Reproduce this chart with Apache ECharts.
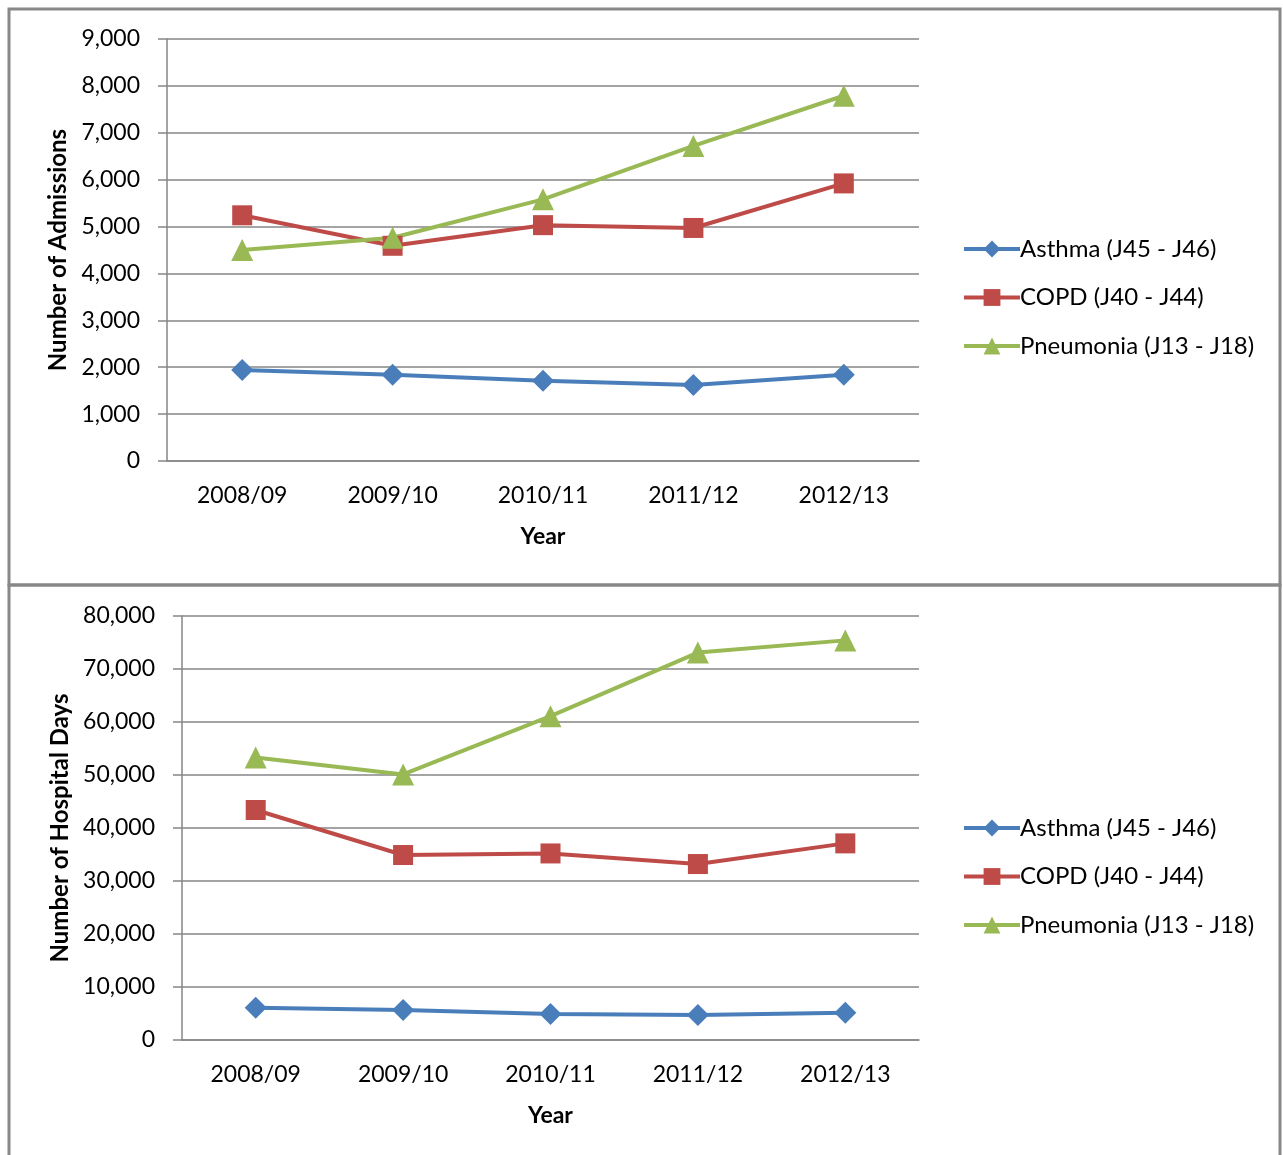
<!DOCTYPE html>
<html>
<head>
<meta charset="utf-8">
<script src="https://cdn.jsdelivr.net/npm/echarts@6/dist/echarts.min.js"></script>
<style>
  html, body { margin: 0; padding: 0; background: #fff; }
  #chart { width: 1283px; height: 1155px; }
</style>
</head>
<body>
<div id="chart"></div>
<script>
// Fiscal years on the category axis
const years = ['2008/09', '2009/10', '2010/11', '2011/12', '2012/13'];

// Hospital admissions by condition
const admissionsAsthma    = [1940, 1840, 1710, 1620, 1840];
const admissionsCOPD      = [5240, 4590, 5030, 4970, 5920];
const admissionsPneumonia = [4500, 4760, 5580, 6720, 7790];

// Hospital days by condition
const daysAsthma    = [6100, 5650, 4900, 4720, 5150];
const daysCOPD      = [43400, 34900, 35200, 33200, 37100];
const daysPneumonia = [53300, 50100, 61100, 73100, 75400];

const seriesNames = ['Asthma (J45 - J46)', 'COPD (J40 - J44)', 'Pneumonia (J13 - J18)'];
const colors = ['#4A7EBB', '#BE4B48', '#98B954'];
const symbols = ['diamond', 'rect', 'triangle'];
const symbolSizes = [22, 20, 22];

const FONT = 'Lato, "Open Sans", sans-serif';
const GRID_COLOR = '#868686';

function fmt(v) { return v.toLocaleString('en-US'); }

function yAxis(gridIndex, max, interval, name, nameGap) {
  return {
    type: 'value', gridIndex, min: 0, max, interval,
    name, nameLocation: 'middle', nameRotate: 90, nameGap,
    nameTextStyle: { fontFamily: FONT, fontSize: 24, fontWeight: 'bold', color: '#000' },
    axisLine: { show: true, lineStyle: { color: GRID_COLOR, width: 1.5 } },
    axisTick: { show: true, length: 9, lineStyle: { color: GRID_COLOR, width: 1.5 } },
    axisLabel: { margin: 27, fontFamily: FONT, fontSize: 23, color: '#000', formatter: fmt },
    splitLine: { show: true, lineStyle: { color: GRID_COLOR, width: 1.5 } }
  };
}

function xAxis(gridIndex) {
  return {
    type: 'category', gridIndex, data: years, boundaryGap: true,
    name: 'Year', nameLocation: 'middle', nameGap: 64,
    nameTextStyle: { fontFamily: FONT, fontSize: 23, fontWeight: 'bold', color: '#000' },
    axisLine: { show: true, lineStyle: { color: GRID_COLOR, width: 1.5 } },
    axisTick: { show: false },
    axisLabel: { margin: 23, fontFamily: FONT, fontSize: 23, color: '#000' }
  };
}

function lineSeries(i, data, axisIndex) {
  return {
    name: seriesNames[i], type: 'line', data,
    xAxisIndex: axisIndex, yAxisIndex: axisIndex,
    symbol: symbols[i], symbolSize: symbolSizes[i],
    lineStyle: { color: colors[i], width: 4 },
    itemStyle: { color: colors[i] },
    emphasis: { disabled: true },
    animation: false
  };
}

function legend(top) {
  return {
    orient: 'vertical', left: 957, top,
    itemWidth: 56, itemHeight: 21, itemGap: 24.5,
    lineStyle: { width: 4 },
    textStyle: { fontFamily: FONT, fontSize: 24, color: '#000', padding: [0, 0, 0, -5] },
    data: seriesNames
  };
}

const chart = echarts.init(document.getElementById('chart'), null, { renderer: 'canvas' });
chart.setOption({
  backgroundColor: '#fff',
  animation: false,
  color: colors,
  graphic: [
    { type: 'rect', shape: { x: 9, y: 9, width: 1271, height: 576 }, style: { fill: 'none', stroke: '#888', lineWidth: 3 }, silent: true },
    { type: 'rect', shape: { x: 9, y: 585, width: 1271, height: 600 }, style: { fill: 'none', stroke: '#888', lineWidth: 3 }, silent: true }
  ],
  grid: [
    { left: 167, top: 39, width: 752, height: 422 },
    { left: 182, top: 616, width: 737, height: 424 }
  ],
  xAxis: [xAxis(0), xAxis(1)],
  yAxis: [
    yAxis(0, 9000, 1000, 'Number of Admissions', 95),
    yAxis(1, 80000, 10000, 'Number of Hospital Days', 110)
  ],
  legend: [legend(232), legend(811)],
  series: [
    lineSeries(0, admissionsAsthma, 0),
    lineSeries(1, admissionsCOPD, 0),
    lineSeries(2, admissionsPneumonia, 0),
    lineSeries(0, daysAsthma, 1),
    lineSeries(1, daysCOPD, 1),
    lineSeries(2, daysPneumonia, 1)
  ]
});
</script>
</body>
</html>
